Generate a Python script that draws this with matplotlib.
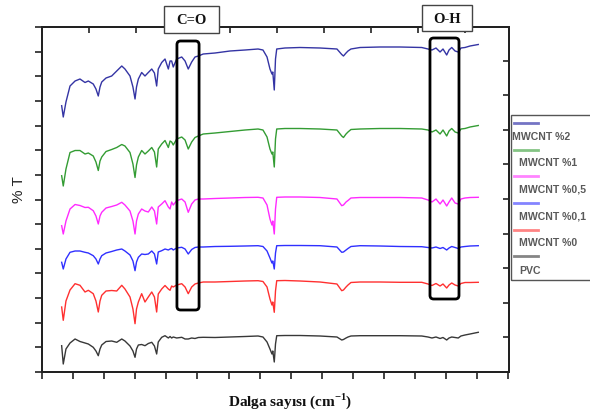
import matplotlib
matplotlib.use("Agg")
import matplotlib.pyplot as plt
from matplotlib.patches import Rectangle, FancyBboxPatch
from matplotlib.lines import Line2D
import numpy as np

plt.rcParams['mathtext.fontset'] = 'custom'
plt.rcParams['mathtext.bf'] = 'Liberation Serif:bold'
plt.rcParams['mathtext.rm'] = 'Liberation Serif:bold'

# ---- data (wavenumber, cm-1) and offset transmittance (a.u.) ----
wavenumber = [610, 623, 645, 678, 719, 759, 800, 827, 867, 889, 908, 922, 936, 971,
              1017, 1058, 1099, 1125, 1166, 1190, 1207, 1219, 1234, 1261, 1288, 1315,
              1343, 1365, 1383, 1396, 1424, 1451, 1478, 1492, 1505, 1518, 1546, 1587,
              1614, 1640, 1668, 1695, 1722, 1762, 1858, 1980, 2102, 2208, 2248, 2281,
              2305, 2321, 2328, 2340, 2350, 2360, 2427, 2549, 2712, 2850, 2889, 2903,
              2924, 2940, 2964, 3038, 3200, 3363, 3540, 3591, 3623, 3656, 3689, 3713,
              3743, 3762, 3784, 3811, 3837, 3859, 3892, 3933, 4000]

mwcnt_2 = [266.3, 255, 270, 286, 291, 293, 289.5, 291, 288, 283, 276, 285, 290, 294, 296,
           301, 306, 303, 296, 285, 273, 285, 293, 299.5, 296, 299.5, 303, 299, 286, 303,
           309.5, 313, 303, 311, 311, 305, 313, 315, 311, 303, 310, 315, 316, 318, 319,
           321, 322, 323, 322, 315, 303, 298, 300, 282, 313, 323, 324, 324.5, 324, 323,
           317.5, 316, 319, 321, 323, 324.5, 325, 325, 324.5, 323, 322, 324, 320, 323,
           317, 322, 324.5, 321, 320, 324, 324.5, 326, 327.5]

mwcnt_1 = [196.3, 186, 203, 219.5, 221.5, 221.5, 218, 219, 216, 210, 201.5, 211, 215, 220.5,
           222.5, 224.5, 227.5, 226, 219.5, 208, 194.5, 207, 215, 221.5, 218, 221, 224.5,
           220, 205, 223, 228, 231.5, 224.5, 231, 230, 227, 233, 235, 232, 223, 230, 234.5,
           236, 238, 239, 240.5, 242, 243, 242, 235, 223, 218, 220, 205, 233, 243, 243.5,
           243.5, 243, 242, 236, 234.5, 238, 240, 242.5, 243, 243.5, 243.5, 243, 242, 240,
           242, 238, 242, 236, 241, 243.5, 240, 239, 243, 243.5, 245, 246.5]

mwcnt_05 = [146.3, 138, 151, 163, 167.5, 166.5, 164.5, 164.7, 161.3, 156, 148, 156, 159.7,
            164, 165.5, 167, 169.7, 167, 161, 151, 138, 151, 158, 163, 161, 160, 165, 161,
            148, 165, 168, 171.3, 165, 163, 170, 167, 171.3, 173, 170, 159.7, 168, 172, 173,
            173, 173.5, 174, 174.5, 174.7, 174, 167, 153, 147, 151, 138, 163, 174.7, 175,
            175, 174.5, 173, 166.3, 167, 170, 171.5, 174, 174.5, 174.5, 174.5, 174, 172, 170,
            173, 168, 172, 166, 170, 174, 169, 168, 173, 174, 174.5, 174.7]

mwcnt_01 = [109.7, 103, 113, 119.7, 121, 121, 119.7, 119, 116.3, 113, 108, 113, 116.3, 119,
            120.5, 122, 123, 121, 117, 111, 101.3, 110, 114.7, 118, 117.5, 118, 121, 118,
            108, 120, 121.3, 123, 122, 123, 123.5, 122, 124, 124.7, 123, 118, 122.5, 124.5,
            125, 125, 125.5, 125.7, 126, 126.3, 125.5, 121, 114, 109, 111, 103, 119, 126.3,
            126.5, 126.5, 126.3, 125, 119.7, 120, 122, 123.5, 125.5, 126.3, 126, 125.5,
            125.3, 124.5, 124, 125, 123.5, 124.5, 122, 124, 125.5, 124.5, 123.5, 125, 125.5,
            126, 126.3]

mwcnt_0 = [65, 51.7, 71, 82, 88.3, 86.7, 80, 81.7, 78.3, 71, 60, 71, 76.7, 81, 81.5, 81,
           86.7, 83, 75, 63, 48.3, 63, 70, 78.3, 70, 75, 80, 75, 60, 78, 83, 86.5, 83, 81.7,
           86, 85, 87, 88.3, 85, 78.3, 85, 88, 89, 90, 90, 90.5, 91, 91.3, 90.5, 85, 73, 67,
           70, 59.7, 81, 91.3, 91.5, 91, 90, 88, 81.3, 82, 85, 87, 89.5, 90, 90, 89.7, 89.7,
           88, 86.5, 88.5, 86, 88, 84, 87, 89, 87, 86, 88.5, 89.5, 89.5, 89.7]

pvc = [26.3, 8, 23, 29, 33, 30.5, 29, 28, 24.7, 21, 16.3, 23, 27, 30.5, 31, 29.7, 33, 31,
       26, 21, 14.7, 23, 27, 27.5, 26.3, 28.5, 29.7, 26, 18, 30, 34.7, 36.3, 34, 35.5, 34,
       35, 34, 34.7, 33, 33, 34, 33.5, 34.5, 34.7, 34.5, 35, 35.5, 36, 35, 30, 23, 18, 21,
       10, 28, 36.3, 36.5, 36.5, 36, 35, 32, 32.5, 34, 35, 36, 36.3, 36.3, 36.3, 36, 35, 34,
       35, 33.5, 34.5, 32, 34, 35, 34.5, 34, 36, 37, 38, 39.7]

series_labels = ["MWCNT %2", "MWCNT %1", "MWCNT %0,5", "MWCNT %0,1", "MWCNT %0", "PVC"]
series_values = [mwcnt_2, mwcnt_1, mwcnt_05, mwcnt_01, mwcnt_0, pvc]
line_colors = ["#3434a4", "#339c33", "#ff2aff", "#3030ff", "#ff3030", "#383838"]
legend_colors = ["#7474c4", "#84c484", "#ff84ff", "#8484ff", "#ff8484", "#858585"]

# ---- figure ----
W, H = 590, 414
fig = plt.figure(figsize=(W / 100, H / 100), dpi=100)
def fx(px): return px / W
def fy(py): return 1 - py / H

ax = fig.add_axes([fx(42), fy(373), fx(509) - fx(42), fy(28) - fy(373)])
XMIN, XMAX, YMIN, YMAX = 450, 4250, 0, 345
for vals, c in zip(series_values, line_colors):
    ax.plot(wavenumber, vals, color=c, lw=1.0)
ax.set_xlim(XMIN, XMAX)
ax.set_ylim(YMIN, YMAX)

bottom_ticks = [450 + 253 * k for k in range(16)]
left_ticks = [YMAX / 14 * k for k in range(15)]
ax.set_xticks(bottom_ticks)
ax.set_yticks(left_ticks)
ax.tick_params(axis='both', direction='out', length=5, width=1.2,
               labelbottom=False, labelleft=False, color='#222222')
for s in ax.spines.values():
    s.set_linewidth(1.4)
    s.set_color('#222222')

# top ticks (inward)
axt = ax.twiny()
axt.set_xlim(XMIN, XMAX)
axt.set_xticks([450 + 382.4 * k for k in range(1, 10)])
axt.tick_params(axis='x', direction='in', length=4.5, width=1.2, labeltop=False,
                color='#222222')
# right ticks (inward)
axr = ax.twinx()
axr.set_ylim(YMIN, YMAX)
axr.set_yticks([34.6 * k for k in range(1, 10)])
axr.tick_params(axis='y', direction='in', length=4.5, width=1.2, labelright=False,
                color='#222222')
for a in (axt, axr):
    for s in a.spines.values():
        s.set_linewidth(1.4)
        s.set_color('#222222')

# ---- highlight boxes (rounded) ----
aspect = 1 / 8.137
for (x0, x1, y0, y1) in [(1548, 1728, 62, 331), (3607, 3843, 73, 334)]:
    p = FancyBboxPatch((x0, y0), x1 - x0, y1 - y0,
                       boxstyle="round,pad=0,rounding_size=30",
                       mutation_aspect=aspect, fill=False, ec='black', lw=2.0,
                       transform=ax.transData, zorder=5, clip_on=False)
    fig.add_artist(p)

# ---- labels boxes at top ----
for (x0, x1, y0, y1, txt) in [(1443, 1890, 339, 366, "C=O"), (3542, 3949, 341, 367, "O-H")]:
    r = Rectangle((x0, y0), x1 - x0, y1 - y0, fc='white', ec='#444444', lw=1.0,
                  transform=ax.transData, zorder=6, clip_on=False)
    fig.add_artist(r)
    fig.text((x0 + x1) / 2, (y0 + y1) / 2, txt, transform=ax.transData,
             ha='center', va='center', fontsize=10.5, fontweight='bold',
             family='Liberation Serif', color='#111111', zorder=7)

# ---- axis labels ----
fig.text(fx(290), fy(401), r"Dalga sayısı (cm$^{\mathbf{-1}}$)", ha='center', va='center',
         fontsize=11, fontweight='bold', family='Liberation Serif', color='#111111')
fig.text(fx(19), fy(190), "% T", rotation=90, ha='center', va='center',
         fontsize=11, family='Liberation Sans', color='#222222')

# ---- legend (custom) ----
fig.add_artist(Rectangle((fx(511), fy(281)), fx(620) - fx(511), fy(116) - fy(281),
                         fill=False, ec='#555555', lw=1.0, transform=fig.transFigure))
line_y = [124, 151, 177.3, 204, 230.7, 257.3]
text_y = [136.5, 163.5, 190, 216.7, 243.3, 271]
text_x = [512.5, 519, 519, 519, 519, 519]
for lab, c, ly, ty, tx in zip(series_labels, legend_colors, line_y, text_y, text_x):
    fig.add_artist(Line2D([fx(514), fx(538)], [fy(ly), fy(ly)], color=c, lw=2.0,
                          transform=fig.transFigure))
    fig.text(fx(tx), fy(ty), lab, ha='left', va='center', fontsize=7.6,
             fontweight='bold', family='Liberation Sans', color='#5a5a5a')

fig.savefig("out.png", dpi=100)
